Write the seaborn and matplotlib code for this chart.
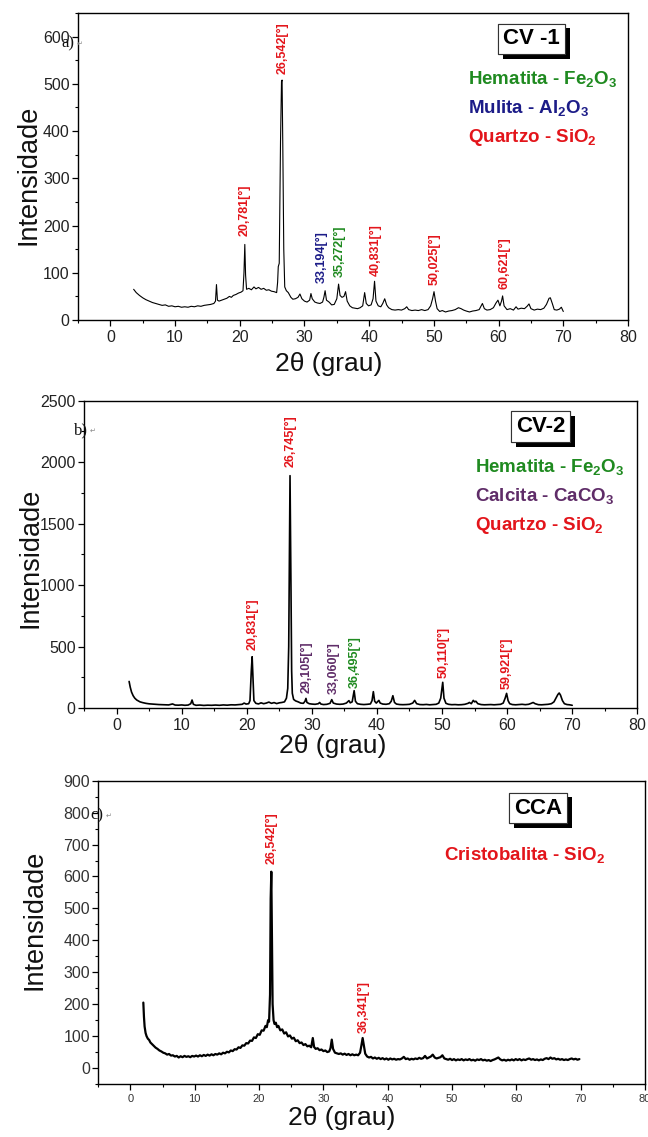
import matplotlib
matplotlib.use("Agg")
import matplotlib.pyplot as plt
import matplotlib.patheffects as pe
from matplotlib.ticker import MultipleLocator
import numpy as np
import pandas as pd
import seaborn as sns

sns.set_theme(style="ticks")
plt.rcParams['font.family'] = ['Liberation Sans', 'DejaVu Sans']
plt.rcParams['mathtext.fontset'] = 'custom'
plt.rcParams['mathtext.rm'] = 'Liberation Sans:bold'
plt.rcParams['mathtext.bf'] = 'Liberation Sans:bold'
plt.rcParams['mathtext.it'] = 'Liberation Sans:bold'

# ---------------- data: CV-1 ----------------
cv1_2theta = [3.6, 4.0, 4.5, 5.0, 5.5, 6.0, 6.5, 7.0, 7.5, 8.0,
              8.5, 9.0, 9.5, 10.0, 10.5, 11.0, 11.5, 12.0, 12.5, 13.0,
              13.5, 14.0, 14.5, 15.0, 15.5, 16.0, 16.25, 16.4, 16.55, 16.8,
              17.2, 17.6, 18.0, 18.4, 18.7, 19.0, 19.4, 19.8, 20.2, 20.5,
              20.65, 20.78, 20.9, 21.05, 21.4, 21.8, 22.2, 22.5, 22.9, 23.3,
              23.7, 24.1, 24.5, 24.9, 25.3, 25.7, 25.85, 25.95, 26.1, 26.3,
              26.45, 26.54, 26.65, 26.8, 26.95, 27.2, 27.5, 27.9, 28.2, 28.6,
              29.0, 29.3, 29.6, 30.0, 30.4, 30.8, 31.0, 31.2, 31.6, 32.0,
              32.4, 32.8, 33.0, 33.19, 33.4, 33.8, 34.2, 34.6, 35.0, 35.27,
              35.5, 35.8, 36.1, 36.35, 36.6, 37.0, 37.4, 37.8, 38.2, 38.6,
              39.0, 39.3, 39.55, 39.9, 40.3, 40.6, 40.83, 41.05, 41.4, 41.8,
              42.1, 42.4, 42.7, 43.0, 43.5, 44.0, 44.5, 45.0, 45.5, 45.8,
              46.1, 46.6, 47.1, 47.6, 48.1, 48.6, 49.1, 49.5, 49.8, 50.02,
              50.25, 50.5, 50.9, 51.3, 51.8, 52.3, 52.8, 53.3, 53.8, 54.2,
              54.6, 55.0, 55.5, 56.0, 56.5, 57.0, 57.5, 57.8, 58.2, 58.7,
              59.2, 59.6, 59.9, 60.2, 60.45, 60.62, 60.85, 61.3, 61.8, 62.3,
              62.7, 63.0, 63.5, 64.0, 64.4, 64.7, 65.0, 65.5, 66.0, 66.5,
              67.0, 67.4, 67.8, 68.0, 68.3, 68.6, 69.0, 69.4, 69.7, 70.0]
cv1_intensity = [65, 58, 52, 47, 43, 40, 37, 35, 33, 31,
                 32, 29, 30, 28, 29, 27, 28, 27, 29, 28,
                 30, 29, 31, 32, 33, 35, 40, 75, 42, 40,
                 42, 44, 46, 50, 48, 52, 54, 57, 59, 62,
                 100, 160, 95, 65, 67, 64, 70, 66, 69, 65,
                 67, 63, 64, 61, 60, 58, 80, 113, 120, 380,
                 505, 508, 370, 150, 70, 62, 58, 48, 44, 45,
                 48, 55, 45, 40, 38, 42, 56, 45, 38, 36,
                 35, 38, 48, 62, 42, 38, 32, 33, 45, 76,
                 52, 48, 50, 60, 40, 30, 26, 25, 24, 26,
                 30, 58, 35, 30, 32, 45, 82, 40, 30, 28,
                 35, 45, 32, 26, 22, 21, 22, 21, 24, 28,
                 22, 20, 21, 20, 22, 20, 22, 30, 45, 60,
                 40, 24, 18, 20, 17, 19, 20, 22, 26, 24,
                 21, 19, 17, 19, 20, 22, 35, 24, 21, 22,
                 26, 36, 42, 30, 40, 51, 30, 22, 24, 21,
                 28, 23, 25, 24, 29, 34, 24, 21, 23, 22,
                 25, 33, 46, 47, 35, 22, 21, 23, 27, 18]
cv1_labels = ["20,781[°]", "26,542[°]", "33,194[°]", "35,272[°]",
              "40,831[°]", "50,025[°]", "60,621[°]"]
cv1_label_2theta = [20.7, 26.6, 32.6, 35.5, 41.0, 50.1, 60.9]
cv1_label_base = [178, 520, 78, 91, 93, 74, 65]
cv1_label_phase = ["Q", "Q", "M", "H", "Q", "Q", "Q"]
cv1_legend = [r"Hematita - Fe$_2$O$_3$", r"Mulita - Al$_2$O$_3$", r"Quartzo - SiO$_2$"]
cv1_legend_phase = ["H", "M", "Q"]

# ---------------- data: CV-2 ----------------
cv2_2theta = [1.93, 2.1, 2.3, 2.55, 2.8, 3.1, 3.6, 4.0, 4.5, 5.0,
              5.5, 6.0, 6.5, 7.0, 7.5, 8.0, 8.6, 9.0, 9.5, 10.0,
              10.5, 11.0, 11.4, 11.6, 11.8, 12.2, 12.8, 13.4, 14.0, 14.6,
              15.2, 15.8, 16.4, 17.0, 17.6, 18.2, 18.8, 19.3, 19.6, 19.9,
              20.3, 20.5, 20.7, 20.83, 20.95, 21.1, 21.4, 21.8, 22.2, 22.6,
              23.0, 23.4, 23.8, 24.2, 24.6, 25.0, 25.4, 25.8, 26.1, 26.3,
              26.45, 26.55, 26.65, 26.72, 26.8, 26.9, 27.0, 27.2, 27.5, 27.9,
              28.3, 28.7, 28.95, 29.1, 29.25, 29.6, 30.0, 30.5, 31.0, 31.2,
              31.4, 31.8, 32.3, 32.8, 33.06, 33.3, 33.8, 34.3, 34.8, 35.3,
              35.7, 35.9, 36.2, 36.5, 36.7, 37.0, 37.5, 38.0, 38.5, 39.0,
              39.25, 39.45, 39.65, 39.9, 40.3, 40.5, 40.9, 41.4, 41.9, 42.2,
              42.45, 42.7, 43.0, 43.5, 44.0, 44.5, 45.0, 45.5, 45.8, 46.1,
              46.6, 47.1, 47.6, 48.1, 48.6, 49.1, 49.5, 49.8, 50.0, 50.11,
              50.3, 50.6, 51.0, 51.5, 52.0, 52.5, 53.0, 53.5, 54.0, 54.2,
              54.5, 54.8, 55.0, 55.2, 55.5, 56.0, 56.5, 57.0, 57.5, 58.0,
              58.5, 59.0, 59.4, 59.7, 59.92, 60.15, 60.4, 60.8, 61.3, 61.8,
              62.3, 62.8, 63.3, 63.7, 64.0, 64.3, 64.8, 65.3, 65.8, 66.3,
              66.8, 67.2, 67.5, 67.8, 68.0, 68.2, 68.5, 68.8, 69.2, 69.6,
              70.0]
cv2_intensity = [216, 170, 130, 100, 80, 65, 50, 44, 38, 34,
                 32, 30, 28, 27, 26, 25, 33, 24, 23, 25,
                 22, 24, 35, 65, 30, 22, 24, 21, 23, 22,
                 24, 22, 25, 23, 26, 25, 28, 30, 40, 32,
                 35, 60, 300, 417, 250, 60, 38, 33, 42, 35,
                 40, 48, 38, 44, 36, 42, 45, 50, 80, 160,
                 500, 1200, 1890, 1500, 960, 300, 120, 70, 58, 50,
                 40, 38, 55, 78, 45, 35, 32, 30, 35, 45,
                 32, 28, 30, 38, 68, 40, 32, 30, 32, 40,
                 60, 42, 50, 141, 55, 35, 30, 28, 30, 33,
                 60, 133, 55, 40, 62, 40, 32, 30, 35, 55,
                 100, 45, 32, 28, 27, 28, 30, 40, 62, 35,
                 28, 27, 29, 26, 28, 30, 40, 80, 160, 209,
                 80, 38, 30, 27, 28, 26, 27, 30, 38, 45,
                 35, 62, 50, 55, 35, 28, 26, 27, 28, 26,
                 28, 30, 40, 80, 119, 60, 35, 28, 26, 28,
                 30, 27, 30, 38, 45, 35, 27, 26, 28, 30,
                 35, 50, 80, 110, 122, 105, 60, 35, 28, 26,
                 22]
cv2_labels = ["20,831[°]", "26,745[°]", "29,105[°]", "33,060[°]",
              "36,495[°]", "50,110[°]", "59,921[°]"]
cv2_label_2theta = [20.9, 26.8, 29.2, 33.3, 36.6, 50.2, 60.0]
cv2_label_base = [472, 1963, 119, 113, 163, 244, 155]
cv2_label_phase = ["Q", "Q", "C", "C", "H", "Q", "Q"]
cv2_legend = [r"Hematita - Fe$_2$O$_3$", r"Calcita - CaCO$_3$", r"Quartzo - SiO$_2$"]
cv2_legend_phase = ["H", "C", "Q"]

# ---------------- data: CCA ----------------
cca_2theta = [2.0, 2.1, 2.2, 2.35, 2.5, 2.7, 2.9, 3.1, 3.3, 3.6,
              3.9, 4.2, 4.5, 4.8, 5.1, 5.4, 5.7, 6.0, 6.3, 6.6,
              6.9, 7.2, 7.5, 7.8, 8.1, 8.4, 8.7, 9.0, 9.3, 9.6,
              9.9, 10.2, 10.5, 10.8, 11.1, 11.4, 11.7, 12.0, 12.3, 12.6,
              12.9, 13.2, 13.5, 13.8, 14.1, 14.4, 14.7, 15.0, 15.3, 15.6,
              15.9, 16.2, 16.5, 16.8, 17.1, 17.4, 17.7, 18.0, 18.3, 18.6,
              18.9, 19.2, 19.5, 19.8, 20.1, 20.4, 20.7, 21.0, 21.2, 21.4,
              21.55, 21.7, 21.8, 21.9, 22.0, 22.1, 22.25, 22.4, 22.6, 22.8,
              23.0, 23.3, 23.6, 23.9, 24.2, 24.5, 24.8, 25.1, 25.4, 25.7,
              26.0, 26.3, 26.6, 26.9, 27.2, 27.5, 27.8, 28.1, 28.35, 28.55,
              28.8, 29.1, 29.4, 29.7, 30.0, 30.3, 30.6, 30.9, 31.1, 31.3,
              31.5, 31.8, 32.1, 32.4, 32.7, 33.0, 33.3, 33.6, 33.9, 34.2,
              34.5, 34.8, 35.1, 35.4, 35.7, 35.9, 36.1, 36.3, 36.5, 36.8,
              37.1, 37.4, 37.7, 38.0, 38.3, 38.6, 38.9, 39.2, 39.5, 39.8,
              40.1, 40.4, 40.7, 41.0, 41.3, 41.6, 41.9, 42.2, 42.5, 42.8,
              43.1, 43.4, 43.7, 44.0, 44.3, 44.6, 44.9, 45.2, 45.5, 45.8,
              46.1, 46.4, 46.7, 47.0, 47.3, 47.6, 47.9, 48.2, 48.5, 48.8,
              49.1, 49.4, 49.7, 50.0, 50.3, 50.6, 50.9, 51.2, 51.5, 51.8,
              52.1, 52.4, 52.7, 53.0, 53.3, 53.6, 53.9, 54.2, 54.5, 54.8,
              55.1, 55.4, 55.7, 56.0, 56.3, 56.6, 56.9, 57.2, 57.5, 57.8,
              58.1, 58.4, 58.7, 59.0, 59.3, 59.6, 59.9, 60.2, 60.5, 60.8,
              61.1, 61.4, 61.7, 62.0, 62.3, 62.6, 62.9, 63.2, 63.5, 63.8,
              64.1, 64.4, 64.7, 65.0, 65.3, 65.6, 65.9, 66.2, 66.5, 66.8,
              67.1, 67.4, 67.7, 68.0, 68.3, 68.6, 68.9, 69.2, 69.5, 69.8]
cca_intensity = [205, 160, 130, 110, 100, 92, 88, 80, 76, 70,
                 64, 60, 55, 52, 48, 46, 42, 44, 39, 40,
                 36, 38, 33, 37, 34, 38, 35, 37, 34, 38,
                 36, 39, 36, 40, 37, 41, 38, 42, 39, 43,
                 40, 44, 42, 46, 43, 48, 46, 51, 49, 55,
                 53, 59, 58, 65, 63, 71, 70, 78, 77, 86,
                 85, 96, 94, 106, 104, 118, 117, 132, 128, 150,
                 145, 230, 530, 615, 420, 200, 150, 138, 142, 128,
                 132, 118, 121, 108, 112, 99, 102, 92, 95, 84,
                 87, 78, 80, 72, 75, 68, 70, 65, 94, 66,
                 60, 62, 56, 58, 53, 55, 50, 52, 62, 89,
                 60, 48, 46, 44, 46, 42, 45, 41, 44, 40,
                 43, 40, 42, 40, 48, 70, 94, 70, 45, 36,
                 33, 35, 30, 33, 29, 32, 28, 31, 27, 30,
                 26, 30, 27, 29, 26, 28, 27, 30, 35, 28,
                 30, 26, 29, 27, 30, 28, 32, 29, 31, 38,
                 30, 33, 36, 42, 33, 30, 32, 34, 40, 30,
                 28, 26, 29, 25, 28, 24, 27, 25, 28, 24,
                 27, 25, 28, 24, 26, 23, 27, 25, 28, 24,
                 26, 23, 25, 22, 25, 27, 30, 33, 27, 24,
                 26, 23, 26, 24, 27, 24, 28, 25, 28, 24,
                 27, 25, 28, 30, 26, 28, 25, 27, 24, 27,
                 25, 29, 31, 28, 33, 29, 31, 27, 29, 26,
                 28, 25, 27, 25, 28, 30, 27, 29, 26, 28]
cca_labels = ["26,542[°]", "36,341[°]"]
cca_label_2theta = [22.0, 36.3]
cca_label_base = [639, 111]
cca_label_phase = ["Q", "Q"]
cca_legend = [r"Cristobalita - SiO$_2$"]
cca_legend_phase = ["Q"]

sample_names = ["CV -1", "CV-2", "CCA"]
panel_tags = ["a)", "b)", "c)"]

# ---------------- styling ----------------
phase_colors = {"Q": "#e3151b", "H": "#1f8a20", "M": "#1c1c88", "C": "#5f2c68"}

W, H = 648, 1137
fig = plt.figure(figsize=(W / 100, H / 100), dpi=100)
fig.patch.set_facecolor("white")


def fx(px):
    return px / W


def fy(py):
    return 1 - py / H


panels = [
    dict(x=cv1_2theta, y=cv1_intensity, labels=cv1_labels, lx=cv1_label_2theta,
         ly=cv1_label_base, lp=cv1_label_phase, leg=cv1_legend, legp=cv1_legend_phase,
         box=(78, 13, 628, 320), ylim=(0, 650), ymaj=100, ymin=50, lw=0.8,
         xtick_fs=11.5, ytick_fs=11.5, tickcol="#222222",
         name_xy=(531.7, 39), leg_xy=(468, 79), leg_dy=29,
         tag_xy=(61, 43), ylab_xy=(28, 175), xlab_xy=(329, 364)),
    dict(x=cv2_2theta, y=cv2_intensity, labels=cv2_labels, lx=cv2_label_2theta,
         ly=cv2_label_base, lp=cv2_label_phase, leg=cv2_legend, legp=cv2_legend_phase,
         box=(84, 400.7, 637.3, 708), ylim=(0, 2500), ymaj=500, ymin=250, lw=1.2,
         xtick_fs=11.5, ytick_fs=11.5, tickcol="#222222",
         name_xy=(540.8, 426.7), leg_xy=(475, 467), leg_dy=29.5,
         tag_xy=(74, 430), ylab_xy=(30, 558), xlab_xy=(333, 746)),
    dict(x=cca_2theta, y=cca_intensity, labels=cca_labels, lx=cca_label_2theta,
         ly=cca_label_base, lp=cca_label_phase, leg=cca_legend, legp=cca_legend_phase,
         box=(98.3, 780.7, 645, 1084), ylim=(-50, 900), ymaj=100, ymin=50, lw=1.6,
         xtick_fs=8, ytick_fs=11.5, tickcol="#333333",
         name_xy=(537.8, 808), leg_xy=(444, 855), leg_dy=29,
         tag_xy=(90, 815), ylab_xy=(35, 920), xlab_xy=(342, 1118)),
]

for i, p in enumerate(panels):
    l, t, r, b = p["box"]
    ax = fig.add_axes([fx(l), fy(b), (r - l) / W, (b - t) / H])
    df = pd.DataFrame({"2theta": p["x"], "I": p["y"]})
    sns.lineplot(data=df, x="2theta", y="I", ax=ax, color="black",
                 linewidth=p["lw"], estimator=None, sort=False)
    ax.set_xlim(-5, 80)
    ax.set_ylim(*p["ylim"])
    ax.set_xlabel("")
    ax.set_ylabel("")
    ax.xaxis.set_major_locator(MultipleLocator(10))
    ax.xaxis.set_minor_locator(MultipleLocator(5))
    ax.yaxis.set_major_locator(MultipleLocator(p["ymaj"]))
    ax.yaxis.set_minor_locator(MultipleLocator(p["ymin"]))
    ax.tick_params(which="major", direction="out", length=4, width=0.9,
                   color="black", top=False, right=False)
    ax.tick_params(which="minor", direction="out", length=2.5, width=0.8,
                   color="black", top=False, right=False)
    ax.tick_params(axis="x", labelsize=p["xtick_fs"], labelcolor=p["tickcol"], pad=3)
    ax.tick_params(axis="y", labelsize=p["ytick_fs"], labelcolor=p["tickcol"], pad=2)
    for s in ax.spines.values():
        s.set_visible(True)
        s.set_color("black")
        s.set_linewidth(1.0)
    ax.set_facecolor("white")

    # peak annotations
    for txt, xx, yy, ph in zip(p["labels"], p["lx"], p["ly"], p["lp"]):
        ax.text(xx, yy, txt, rotation=90, ha="center", va="bottom",
                color=phase_colors[ph], fontsize=9, fontweight="bold")

    # sample name box with shadow
    nx, ny = p["name_xy"]
    tb = fig.text(fx(nx), fy(ny), sample_names[i], ha="center", va="center",
                  fontsize=16, fontweight="bold", color="black",
                  bbox=dict(boxstyle="square,pad=0.22", fc="white", ec="#333333", lw=0.8))
    tb.get_bbox_patch().set_path_effects([
        pe.withSimplePatchShadow(offset=(3.5, -3.5), shadow_rgbFace="black", alpha=1.0),
        pe.Normal()])

    # phase legend
    lx0, ly0 = p["leg_xy"]
    for k, (lt, lph) in enumerate(zip(p["leg"], p["legp"])):
        fig.text(fx(lx0), fy(ly0 + k * p["leg_dy"]), lt, ha="left", va="center",
                 fontsize=13.5, fontweight="bold", color=phase_colors[lph])

    # panel tag
    tx, ty = p["tag_xy"]
    fig.text(fx(tx), fy(ty), panel_tags[i], ha="left", va="center",
             family="Liberation Serif", fontsize=12, color="#111111")
    fig.text(fx(tx + 16), fy(ty + 1), "\u21b5", ha="left", va="center",
             family="DejaVu Sans", fontsize=5, color="#888888")

    # axis labels
    yx, yy = p["ylab_xy"]
    fig.text(fx(yx), fy(yy), "Intensidade", rotation=90, ha="center", va="center",
             fontsize=19.5, color="#111111")
    xx_, xy_ = p["xlab_xy"]
    fig.text(fx(xx_), fy(xy_), "2θ (grau)", ha="center", va="center",
             fontsize=19, color="#111111")

fig.savefig("out.png", dpi=100, facecolor="white")
